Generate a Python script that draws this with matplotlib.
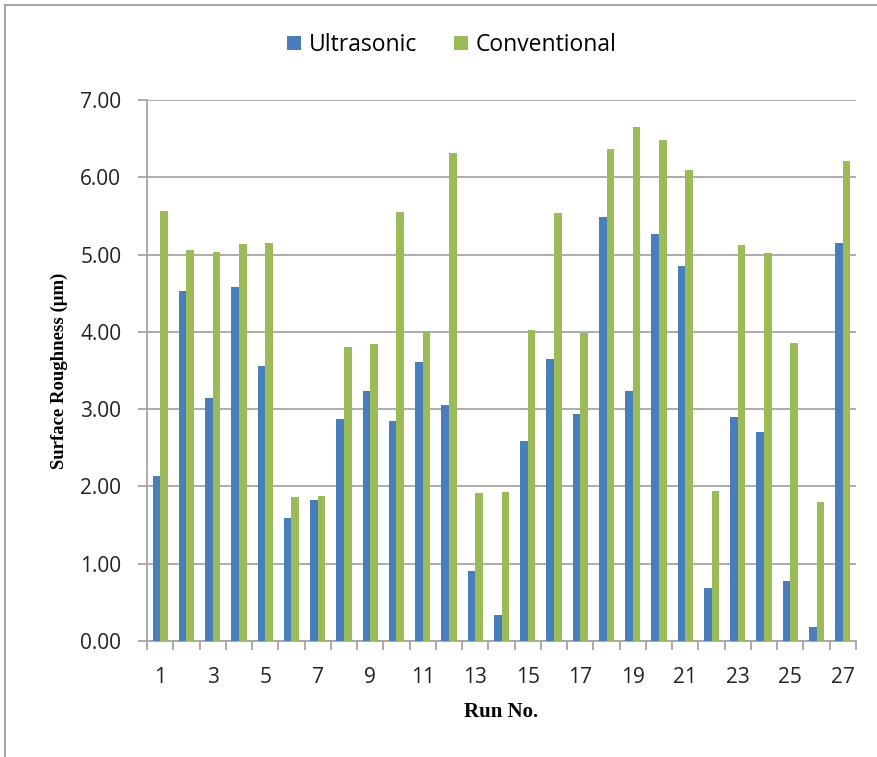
import numpy as np
import matplotlib
matplotlib.use('Agg')
import matplotlib.pyplot as plt
from matplotlib.lines import Line2D

runs = list(range(1, 28))
ultrasonic = [2.14, 4.53, 3.14, 4.58, 3.56, 1.59, 1.83, 2.87, 3.23, 2.85,
              3.61, 3.06, 0.90, 0.34, 2.59, 3.65, 2.94, 5.49, 3.24, 5.27,
              4.85, 0.69, 2.90, 2.71, 0.77, 0.18, 5.15]
conventional = [5.57, 5.06, 5.03, 5.14, 5.15, 1.86, 1.88, 3.81, 3.84, 5.55,
                4.01, 6.31, 1.92, 1.93, 4.03, 5.54, 3.99, 6.37, 6.65, 6.48,
                6.09, 1.94, 5.13, 5.02, 3.86, 1.80, 6.21]
y_ticks = [0, 1, 2, 3, 4, 5, 6, 7]

plt.rcParams['font.family'] = ['Open Sans', 'DejaVu Sans']
grid_col = '#a6a6a6'
serif = ['Liberation Serif', 'DejaVu Serif']

W, H = 877, 757
fig = plt.figure(figsize=[W / 100, H / 100], dpi=100)
ax = fig.add_axes([147 / W, 1 - 641 / H, (856 - 147) / W, (641 - 100) / H])

x = np.arange(len(runs))
w = 0.29
ax.bar(x - w / 2, ultrasonic, w, color='#4a7ebb', label='Ultrasonic', zorder=3)
ax.bar(x + w / 2, conventional, w, color='#9bbb59', label='Conventional', zorder=3)

ax.set_xlim(-0.5, len(runs) - 0.5)
ax.set_ylim(0, 7)
ax.set_yticks(y_ticks)
ax.set_yticklabels(['{:.2f}'.format(v) for v in y_ticks], fontsize=15, color='#222222')
ax.yaxis.grid(True, color=grid_col, lw=1.3, zorder=0)

# ticks at category boundaries, labels on every other run
ax.set_xticks(np.arange(-0.5, len(runs) + 0.5, 1))
ax.set_xticklabels([])
ax.set_xticks(x[::2], minor=True)
ax.set_xticklabels([str(r) for r in runs[::2]], minor=True, fontsize=15, color='#222222')
ax.tick_params(axis='x', which='minor', length=0, pad=19)
ax.tick_params(axis='x', which='major', length=6.5, width=1.3, color=grid_col, direction='out')
ax.tick_params(axis='y', length=6.5, width=1.3, color=grid_col, direction='out', pad=12)

for s in ['top', 'right']:
    ax.spines[s].set_visible(False)
for s in ['left', 'bottom']:
    ax.spines[s].set_color(grid_col)
    ax.spines[s].set_linewidth(1.3)

ax.set_ylabel('Surface Roughness (μm)', family=serif, fontweight='bold',
              fontsize=13.5, labelpad=9)
ax.set_xlabel('Run No.', family=serif, fontweight='bold', fontsize=15, labelpad=10)

fig.legend(loc='center', bbox_to_anchor=(452 / W, 1 - 45 / H), ncol=2, frameon=False,
           fontsize=16.5, handlelength=0.6, handleheight=0.6, handletextpad=0.35,
           columnspacing=1.6)

# outer chart border
fig.add_artist(Line2D([5 / W, 5 / W], [0, 1 - 5 / H], color=grid_col, lw=1.5))
fig.add_artist(Line2D([5 / W, 1], [1 - 5 / H, 1 - 5 / H], color=grid_col, lw=1.5))

fig.savefig('out.png', dpi=100)
